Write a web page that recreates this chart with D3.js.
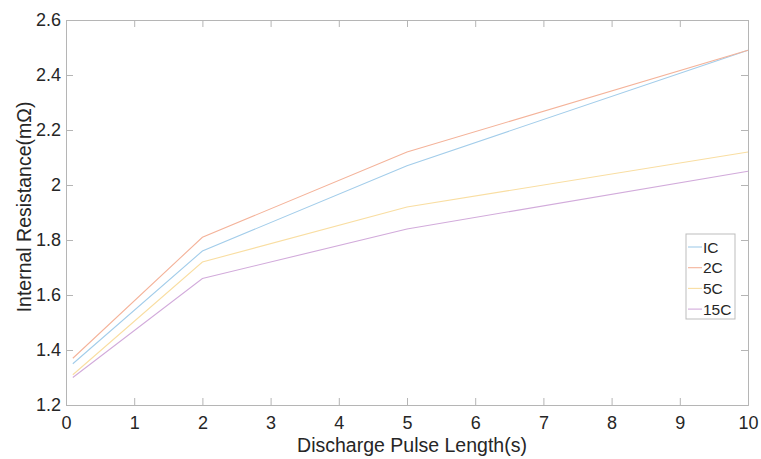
<!DOCTYPE html>
<html>
<head>
<meta charset="utf-8">
<script src="https://cdn.jsdelivr.net/npm/d3@7"></script>
<style>
  body { margin: 0; background: #fff; }
  text { font-family: "Liberation Sans", Arial, sans-serif; }
</style>
</head>
<body>
<svg id="chart" width="761" height="459"></svg>
<script>
// pulse lengths (s)
var pulseLengths = [0.1, 2, 5, 10];
var seriesNames = ["IC", "2C", "5C", "15C"];
var seriesIC = [1.35, 1.76, 2.07, 2.49];
var series2C = [1.37, 1.81, 2.12, 2.49];
var series5C = [1.31, 1.72, 1.92, 2.12];
var series15C = [1.30, 1.66, 1.84, 2.05];
var seriesColors = ["#a3cdea", "#f4b39a", "#f9dea2", "#d2abdb"];
var xTicks = [0, 1, 2, 3, 4, 5, 6, 7, 8, 9, 10];
var yTicks = [1.2, 1.4, 1.6, 1.8, 2, 2.2, 2.4, 2.6];

var svg = d3.select('#chart');
var margin = { top: 20, right: 13, bottom: 54, left: 66 };
var innerWidth = 761 - margin.left - margin.right;
var innerHeight = 459 - margin.top - margin.bottom;

var g = svg.append('g')
           .attr('transform', 'translate(' + margin.left + ',' + margin.top + ')');

var x = d3.scaleLinear().domain([0, 10]).range([0, innerWidth]);
var y = d3.scaleLinear().domain([1.2, 2.6]).range([innerHeight, 0]);

var axisColor = '#b5b5b5';
var tickLen = 7;

// bottom axis
g.append('g')
  .attr('transform', 'translate(0,' + innerHeight + ')')
  .call(d3.axisBottom(x).tickValues(xTicks).tickSize(-tickLen).tickPadding(11).tickFormat(d3.format('d')))
  .call(a => a.select('.domain').attr('stroke', axisColor))
  .call(a => a.selectAll('.tick line').attr('stroke', axisColor))
  .call(a => a.selectAll('.tick text').attr('fill', '#262626').style('font-size', '18px'));

// top axis (box, no labels)
g.append('g')
  .call(d3.axisTop(x).tickValues(xTicks).tickSize(-tickLen))
  .call(a => a.select('.domain').attr('stroke', axisColor))
  .call(a => a.selectAll('.tick line').attr('stroke', axisColor))
  .call(a => a.selectAll('.tick text').remove());

// left axis
g.append('g')
  .call(d3.axisLeft(y).tickValues(yTicks).tickSize(-tickLen).tickPadding(5).tickFormat(d3.format('~g')))
  .call(a => a.select('.domain').attr('stroke', axisColor))
  .call(a => a.selectAll('.tick line').attr('stroke', axisColor))
  .call(a => a.selectAll('.tick text').attr('fill', '#262626').style('font-size', '18px'));

// right axis (box, no labels)
g.append('g')
  .attr('transform', 'translate(' + innerWidth + ',0)')
  .call(d3.axisRight(y).tickValues(yTicks).tickSize(-tickLen))
  .call(a => a.select('.domain').attr('stroke', axisColor))
  .call(a => a.selectAll('.tick line').attr('stroke', axisColor))
  .call(a => a.selectAll('.tick text').remove());

// lines
var allSeries = [seriesIC, series2C, series5C, series15C];
var line = d3.line()
             .x(function(d, i) { return x(pulseLengths[i]); })
             .y(function(d) { return y(d); });

allSeries.forEach(function(s, i) {
  g.append('path')
    .datum(s)
    .attr('fill', 'none')
    .attr('stroke', seriesColors[i])
    .attr('stroke-width', 1.1)
    .attr('d', line);
});

// axis labels
svg.append('text')
  .attr('x', 412)
  .attr('y', 452)
  .attr('text-anchor', 'middle')
  .style('font-size', '19.5px')
  .attr('fill', '#262626')
  .text('Discharge Pulse Length(s)');

svg.append('text')
  .attr('transform', 'translate(31,207) rotate(-90)')
  .attr('text-anchor', 'middle')
  .style('font-size', '19.5px')
  .attr('fill', '#262626')
  .text('Internal Resistance(mΩ)');

// legend
var legend = svg.append('g').attr('transform', 'translate(686,234)');
legend.append('rect')
  .attr('width', 49)
  .attr('height', 85)
  .attr('fill', '#fff')
  .attr('stroke', '#bdbdbd');

seriesNames.forEach(function(name, i) {
  var ly = 13 + i * 20.7;
  legend.append('line')
    .attr('x1', 2).attr('x2', 16)
    .attr('y1', ly).attr('y2', ly)
    .attr('stroke', seriesColors[i])
    .attr('stroke-width', 1.1);
  legend.append('text')
    .attr('x', 17)
    .attr('y', ly + 5.5)
    .style('font-size', '15.5px')
    .attr('fill', '#262626')
    .text(name);
});
</script>
</body>
</html>
